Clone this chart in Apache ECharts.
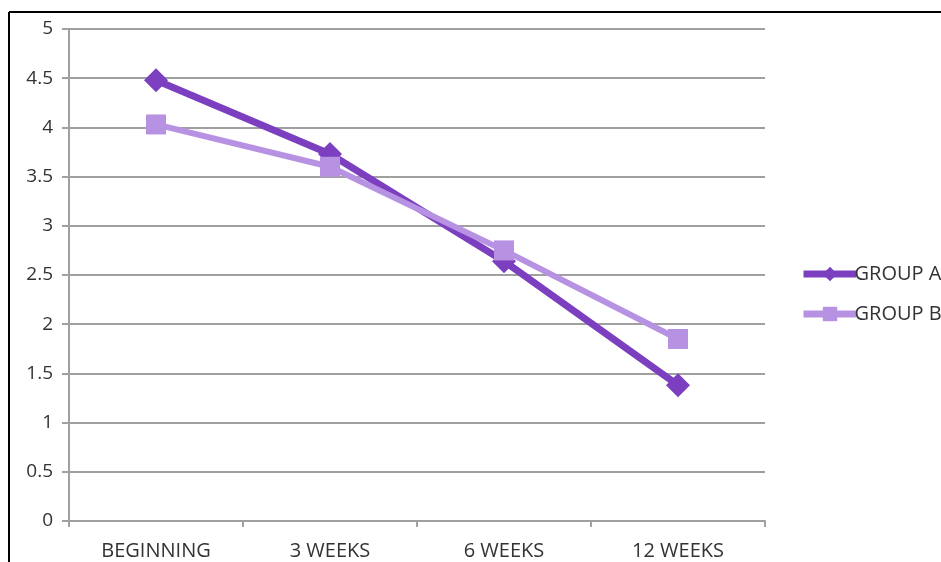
<!DOCTYPE html>
<html>
<head>
<meta charset="utf-8">
<script src="https://cdn.jsdelivr.net/npm/echarts@6/dist/echarts.min.js"></script>
<style>
  html, body { margin: 0; padding: 0; background: #fff; }
  #chart { width: 941px; height: 562px; }
</style>
</head>
<body>
<div id="chart"></div>
<script>
// Time points along the x axis
const categories = ['BEGINNING', '3 WEEKS', '6 WEEKS', '12 WEEKS'];
// Mean scores per group
const groupA = [4.48, 3.73, 2.64, 1.38];
const groupB = [4.03, 3.60, 2.75, 1.85];
// Value axis ticks
const yTicks = [0, 0.5, 1, 1.5, 2, 2.5, 3, 3.5, 4, 4.5, 5];

const FONT = '"Open Sans", "Noto Sans", sans-serif';
const chart = echarts.init(document.getElementById('chart'));

chart.setOption({
  animation: false,
  backgroundColor: '#fff',
  grid: { left: 69, top: 29, width: 696, height: 492, containLabel: false },
  xAxis: {
    type: 'category',
    data: categories,
    boundaryGap: true,
    axisLine: { lineStyle: { color: '#a0a0a0', width: 2 } },
    axisTick: { show: true, alignWithLabel: false, length: 6, lineStyle: { color: '#a0a0a0', width: 2 } },
    axisLabel: { color: '#333', fontFamily: FONT, fontSize: 20, margin: 20 }
  },
  yAxis: {
    type: 'value',
    min: yTicks[0],
    max: yTicks[yTicks.length - 1],
    interval: 0.5,
    axisLine: { show: true, lineStyle: { color: '#a0a0a0', width: 2 } },
    axisTick: { show: true, length: 7, lineStyle: { color: '#a0a0a0', width: 2 } },
    splitLine: { show: true, lineStyle: { color: '#a0a0a0', width: 2 } },
    axisLabel: { color: '#333', fontFamily: FONT, fontSize: 19, margin: 16 }
  },
  legend: {
    orient: 'vertical',
    left: 795,
    top: 259,
    itemWidth: 53,
    itemHeight: 18,
    itemGap: 20,
    lineStyle: { width: 7 },
    textStyle: { color: '#333', fontFamily: FONT, fontSize: 20, padding: [0, 0, 0, -7] },
    data: ['GROUP A', 'GROUP B']
  },
  series: [
    {
      name: 'GROUP A',
      type: 'line',
      data: groupA,
      symbol: 'diamond',
      symbolSize: 24,
      z: 2,
      itemStyle: { color: '#7b3fc0' },
      lineStyle: { color: '#7b3fc0', width: 7 }
    },
    {
      name: 'GROUP B',
      type: 'line',
      data: groupB,
      symbol: 'rect',
      symbolSize: 20,
      z: 3,
      itemStyle: { color: '#b892e2' },
      lineStyle: { color: '#b892e2', width: 6 }
    }
  ],
  graphic: [
    { type: 'line', shape: { x1: 9, y1: 12, x2: 941, y2: 12 }, style: { stroke: '#000', lineWidth: 2 } },
    { type: 'line', shape: { x1: 9, y1: 12, x2: 9, y2: 562 }, style: { stroke: '#000', lineWidth: 2 } }
  ]
});
</script>
</body>
</html>
